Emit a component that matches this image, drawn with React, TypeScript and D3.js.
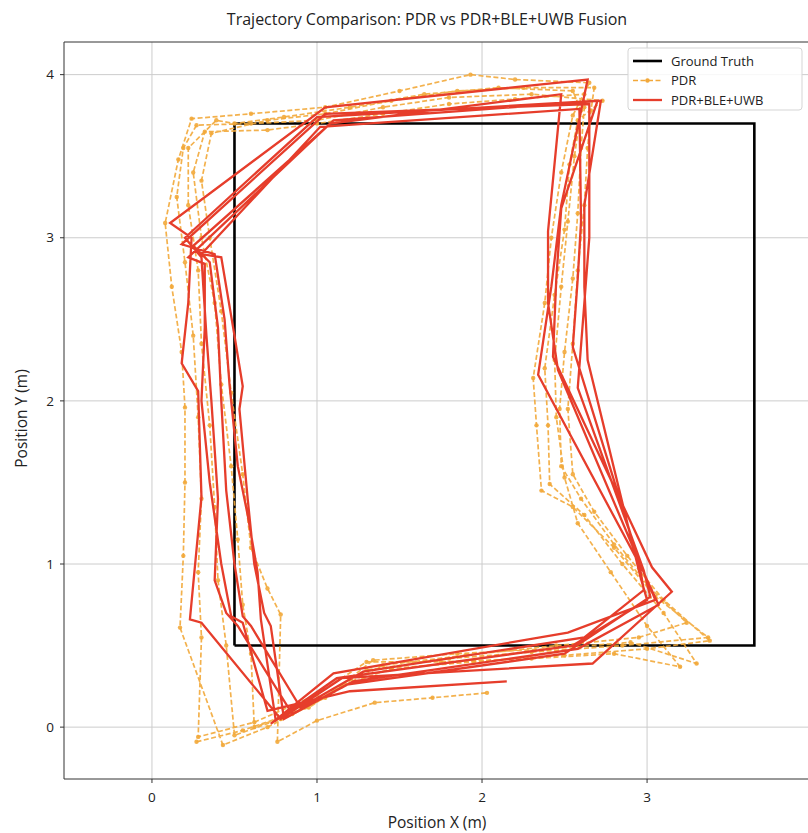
import React, { useEffect, useRef } from 'react'
import * as d3 from 'd3'

const width = 808
const height = 833

// ground truth rectangle corners (m)
const truthX = [0.5, 3.65, 3.65, 0.5, 0.5]
const truthY = [0.5, 0.5, 3.7, 3.7, 0.5]

// PDR estimate, one array per lap (x, y in m)
const pdrLap1 = [
  [0.27, -0.09], [0.55, -0.02], [0.95, 0.12], [1.3, 0.35], [1.8, 0.42], [2.3, 0.46], [2.85, 0.5],
  [3.37, 0.55], [3.05, 0.8], [2.8, 1.1], [2.55, 1.35], [2.36, 1.45], [2.33, 1.85], [2.31, 2.14],
  [2.38, 2.6], [2.42, 3.0], [2.48, 3.4], [2.55, 3.75], [2.65, 3.95], [2.2, 3.97], [1.93, 4.0],
  [1.5, 3.9], [1.05, 3.8], [0.6, 3.76], [0.24, 3.73], [0.16, 3.48], [0.08, 3.09], [0.12, 2.7],
  [0.18, 2.3], [0.2, 1.96], [0.2, 1.5], [0.19, 1.05], [0.17, 0.61],
]
const pdrLap2 = [
  [0.43, -0.11], [0.7, 0.0], [1.05, 0.18], [1.34, 0.41], [1.85, 0.45], [2.4, 0.48], [2.9, 0.52],
  [3.3, 0.39], [3.1, 0.7], [2.85, 1.0], [2.62, 1.3], [2.41, 1.49], [2.4, 1.85], [2.38, 2.2],
  [2.44, 2.65], [2.5, 3.05], [2.53, 3.45], [2.58, 3.72], [2.73, 3.84], [2.3, 3.88], [1.8, 3.86],
  [1.4, 3.8], [1.0, 3.72], [0.6, 3.7], [0.27, 3.69], [0.19, 3.55], [0.15, 3.25], [0.2, 2.85],
  [0.25, 2.4], [0.28, 1.9], [0.3, 1.4], [0.28, 0.95], [0.3, 0.55],
]
const pdrLap3 = [
  [0.28, -0.06], [0.62, 0.03], [1.0, 0.2], [1.3, 0.4], [1.75, 0.4], [2.3, 0.42], [2.8, 0.45],
  [3.2, 0.37], [3.0, 0.62], [2.78, 0.95], [2.58, 1.25], [2.5, 1.53], [2.45, 1.9], [2.44, 2.25],
  [2.48, 2.7], [2.52, 3.1], [2.56, 3.5], [2.6, 3.78], [2.55, 3.9], [2.1, 3.92], [1.65, 3.88],
  [1.2, 3.8], [0.8, 3.74], [0.5, 3.7], [0.39, 3.72], [0.22, 3.55], [0.22, 3.2], [0.28, 2.8],
  [0.3, 2.35], [0.35, 1.85], [0.38, 1.35], [0.4, 0.9], [0.45, 0.5],
]
const pdrLap4 = [
  [0.5, -0.05], [0.78, 0.05], [1.1, 0.22], [1.4, 0.38], [1.9, 0.44], [2.45, 0.5], [2.95, 0.55],
  [3.24, 0.64], [3.02, 0.85], [2.8, 1.12], [2.6, 1.4], [2.48, 1.6], [2.47, 1.95], [2.5, 2.3],
  [2.55, 2.75], [2.58, 3.15], [2.6, 3.55], [2.62, 3.8], [2.62, 3.88], [2.2, 3.85], [1.8, 3.82],
  [1.4, 3.76], [1.0, 3.7], [0.7, 3.66], [0.32, 3.65], [0.25, 3.4], [0.3, 3.0], [0.38, 2.6],
  [0.42, 2.1], [0.48, 1.6], [0.52, 1.15], [0.55, 0.75], [0.6, 0.45],
]
const pdrLap5 = [
  [0.62, 0.0], [0.85, 0.08], [1.15, 0.25], [1.45, 0.36], [1.95, 0.4], [2.5, 0.44], [3.0, 0.48],
  [3.38, 0.53], [3.1, 0.78], [2.88, 1.05], [2.68, 1.32], [2.55, 1.55], [2.52, 1.95], [2.55, 2.35],
  [2.58, 2.8], [2.62, 3.2], [2.64, 3.55], [2.66, 3.78], [2.68, 3.92], [2.25, 3.92], [1.85, 3.9],
  [1.45, 3.84], [1.05, 3.76], [0.7, 3.72], [0.36, 3.64], [0.3, 3.35], [0.35, 3.0], [0.42, 2.55],
  [0.48, 2.05], [0.55, 1.55], [0.6, 1.1], [0.7, 0.85], [0.78, 0.69],
]
const pdrTail = [[0.76, -0.09], [1.0, 0.04], [1.35, 0.15], [1.7, 0.18], [2.03, 0.21]]

// PDR+BLE+UWB fused estimate, one array per lap
const fusedLap1 = [
  [0.72, 0.02], [1.1, 0.33], [2.52, 0.58], [3.05, 0.78], [2.98, 0.95], [2.34, 2.16], [2.42, 2.7],
  [2.48, 3.2], [2.64, 3.97], [1.05, 3.8], [0.11, 3.09], [0.24, 3.0], [0.22, 2.6], [0.18, 2.23],
  [0.28, 2.06], [0.3, 1.41], [0.23, 0.66], [0.3, 0.64],
]
const fusedLap2 = [
  [0.78, 0.05], [1.15, 0.3], [2.67, 0.39], [3.15, 0.83], [3.03, 0.98], [2.43, 2.27], [2.45, 2.75],
  [2.48, 3.18], [2.7, 3.84], [1.0, 3.74], [0.2, 3.0], [0.3, 2.88], [0.33, 2.4], [0.36, 2.0],
  [0.4, 1.4], [0.38, 0.9], [0.45, 0.7], [0.52, 0.62],
]
const fusedLap3 = [
  [0.85, 0.08], [1.22, 0.28], [2.58, 0.48], [3.07, 0.75], [3.0, 0.9], [2.46, 2.19], [2.4, 2.6],
  [2.4, 3.04], [2.48, 3.88], [1.08, 3.7], [0.25, 2.95], [0.35, 2.85], [0.4, 2.45], [0.42, 2.0],
  [0.45, 1.45], [0.5, 1.0], [0.55, 0.68], [0.6, 0.62],
]
const fusedLap4 = [
  [0.9, 0.12], [1.28, 0.34], [2.62, 0.55], [2.98, 0.84], [2.95, 1.02], [2.55, 2.33], [2.58, 2.75],
  [2.6, 3.1], [2.59, 3.79], [1.02, 3.68], [0.3, 2.9], [0.42, 2.88], [0.5, 2.4], [0.55, 2.09],
  [0.53, 1.95], [0.58, 1.4], [0.62, 1.0], [0.68, 0.7], [0.72, 0.62],
]
const fusedLap5 = [
  [0.8, 0.05], [1.18, 0.26], [2.5, 0.45], [3.02, 0.8], [2.98, 0.96], [2.58, 2.08], [2.62, 2.6],
  [2.65, 3.0], [2.65, 3.82], [1.05, 3.76], [0.18, 2.96], [0.38, 2.9], [0.44, 2.5], [0.47, 2.1],
  [0.52, 1.6], [0.58, 1.3], [0.64, 0.95], [0.66, 0.66],
]
const fusedLap6 = [
  [0.75, 0.04], [1.12, 0.3], [2.55, 0.5], [3.0, 0.78], [2.96, 0.92], [2.64, 2.25], [2.62, 2.7],
  [2.62, 3.2], [2.72, 3.84], [1.1, 3.72], [0.22, 2.88], [0.32, 2.84], [0.32, 2.45], [0.3, 2.0],
  [0.35, 1.5], [0.42, 1.0], [0.48, 0.68], [0.55, 0.64],
]
const fusedTail = [[0.7, 0.1], [1.2, 0.22], [2.15, 0.28]]

const xTicks = [0, 1, 2, 3, 4]
const yTicks = [0, 1, 2, 3, 4]

const colors = {
  truth: '#000000',
  pdr: '#f2a83a',
  fused: '#e63d2b',
  grid: '#cccccc',
  spine: '#333333',
}
const font = '"Open Sans", "DejaVu Sans", sans-serif'

function drawChart(node: SVGSVGElement) {
  const svg = d3.select(node)
  svg.selectAll('*').remove()

  const plot = { left: 64, top: 42, right: 822, bottom: 779 }

  const x = d3.scaleLinear().domain([-0.533, 4.06]).range([plot.left, plot.right])
  const y = d3.scaleLinear().domain([-0.318, 4.2]).range([plot.bottom, plot.top])

  svg
    .append('defs')
    .append('clipPath')
    .attr('id', 'plot-area')
    .append('rect')
    .attr('x', plot.left)
    .attr('y', plot.top)
    .attr('width', plot.right - plot.left)
    .attr('height', plot.bottom - plot.top)

  // grid
  const grid = svg.append('g')
  grid
    .selectAll('.gx')
    .data(xTicks)
    .enter()
    .append('line')
    .attr('x1', d => x(d))
    .attr('x2', d => x(d))
    .attr('y1', plot.top)
    .attr('y2', plot.bottom)
    .style('stroke', colors.grid)
    .style('stroke-width', 1)
  grid
    .selectAll('.gy')
    .data(yTicks)
    .enter()
    .append('line')
    .attr('x1', plot.left)
    .attr('x2', plot.right)
    .attr('y1', d => y(d))
    .attr('y2', d => y(d))
    .style('stroke', colors.grid)
    .style('stroke-width', 1)

  const line = d3
    .line<number[]>()
    .x(d => x(d[0]))
    .y(d => y(d[1]))

  const data = svg.append('g').attr('clip-path', 'url(#plot-area)')

  // ground truth
  const truth = truthX.map((v, i) => [v, truthY[i]])
  data
    .append('path')
    .attr('d', line(truth))
    .style('fill', 'none')
    .style('stroke', colors.truth)
    .style('stroke-width', 2.6)

  // PDR, dashed with dot markers
  const pdr = [...pdrLap1, ...pdrLap2, ...pdrLap3, ...pdrLap4, ...pdrLap5, ...pdrTail]
  data
    .append('path')
    .attr('d', line(pdr))
    .style('fill', 'none')
    .style('stroke', colors.pdr)
    .style('stroke-width', 1.7)
    .style('stroke-dasharray', '5,2.5')
    .style('opacity', 0.9)
  data
    .selectAll('.pdr-dot')
    .data(pdr)
    .enter()
    .append('circle')
    .attr('cx', d => x(d[0]))
    .attr('cy', d => y(d[1]))
    .attr('r', 2.2)
    .style('fill', colors.pdr)
    .style('opacity', 0.9)

  // fused
  const fused = [
    ...fusedLap1, ...fusedLap2, ...fusedLap3, ...fusedLap4, ...fusedLap5, ...fusedLap6, ...fusedTail,
  ]
  data
    .append('path')
    .attr('d', line(fused))
    .style('fill', 'none')
    .style('stroke', colors.fused)
    .style('stroke-width', 2.3)
    .style('stroke-linejoin', 'miter')

  // spines
  svg
    .append('path')
    .attr('d', `M${plot.right},${plot.top}H${plot.left}V${plot.bottom}H${plot.right}`)
    .style('fill', 'none')
    .style('stroke', colors.spine)
    .style('stroke-width', 1)

  // ticks + labels
  const axes = svg.append('g').style('font-family', font).style('fill', '#222')
  xTicks.forEach(t => {
    axes
      .append('line')
      .attr('x1', x(t))
      .attr('x2', x(t))
      .attr('y1', plot.bottom)
      .attr('y2', plot.bottom + 4)
      .style('stroke', colors.spine)
    axes
      .append('text')
      .attr('x', x(t))
      .attr('y', plot.bottom + 23)
      .attr('text-anchor', 'middle')
      .style('font-size', '13.5px')
      .text(t)
  })
  yTicks.forEach(t => {
    axes
      .append('line')
      .attr('x1', plot.left - 4)
      .attr('x2', plot.left)
      .attr('y1', y(t))
      .attr('y2', y(t))
      .style('stroke', colors.spine)
    axes
      .append('text')
      .attr('x', plot.left - 10)
      .attr('y', y(t))
      .attr('dy', '0.35em')
      .attr('text-anchor', 'end')
      .style('font-size', '13.5px')
      .text(t)
  })

  axes
    .append('text')
    .attr('x', 437)
    .attr('y', 828)
    .attr('text-anchor', 'middle')
    .style('font-size', '15.5px')
    .text('Position X (m)')
  axes
    .append('text')
    .attr('transform', `translate(27,${(plot.top + plot.bottom) / 2 + 8}) rotate(-90)`)
    .attr('text-anchor', 'middle')
    .style('font-size', '15.5px')
    .text('Position Y (m)')
  axes
    .append('text')
    .attr('x', 427)
    .attr('y', 25)
    .attr('text-anchor', 'middle')
    .style('font-size', '16px')
    .text('Trajectory Comparison: PDR vs PDR+BLE+UWB Fusion')

  // legend
  const legend = svg.append('g').attr('transform', 'translate(628,48)')
  legend
    .append('rect')
    .attr('width', 174)
    .attr('height', 62)
    .attr('rx', 3)
    .style('fill', 'white')
    .style('fill-opacity', 0.85)
    .style('stroke', '#d5d5d5')
  const entries = [
    { label: 'Ground Truth', color: colors.truth, dash: null, dot: false, w: 2.6 },
    { label: 'PDR', color: colors.pdr, dash: '5,2.5', dot: true, w: 1.7 },
    { label: 'PDR+BLE+UWB', color: colors.fused, dash: null, dot: false, w: 2.3 },
  ]
  entries.forEach((e, i) => {
    const cy = 13 + i * 19.5
    legend
      .append('line')
      .attr('x1', 5)
      .attr('x2', 34)
      .attr('y1', cy)
      .attr('y2', cy)
      .style('stroke', e.color)
      .style('stroke-width', e.w)
      .style('stroke-dasharray', e.dash)
    if (e.dot) {
      legend
        .append('circle')
        .attr('cx', 19.5)
        .attr('cy', cy)
        .attr('r', 2.2)
        .style('fill', e.color)
    }
    legend
      .append('text')
      .attr('x', 43)
      .attr('y', cy)
      .attr('dy', '0.35em')
      .style('font-family', font)
      .style('font-size', '13px')
      .style('fill', '#222')
      .text(e.label)
  })
}

export default function App() {
  const ref = useRef<SVGSVGElement>(null)

  useEffect(() => {
    if (ref.current) drawChart(ref.current)
  }, [])

  return (
    <svg
      ref={ref}
      width={width}
      height={height}
      style={{ position: 'absolute', left: 0, top: 0, background: 'white' }}
    />
  )
}
